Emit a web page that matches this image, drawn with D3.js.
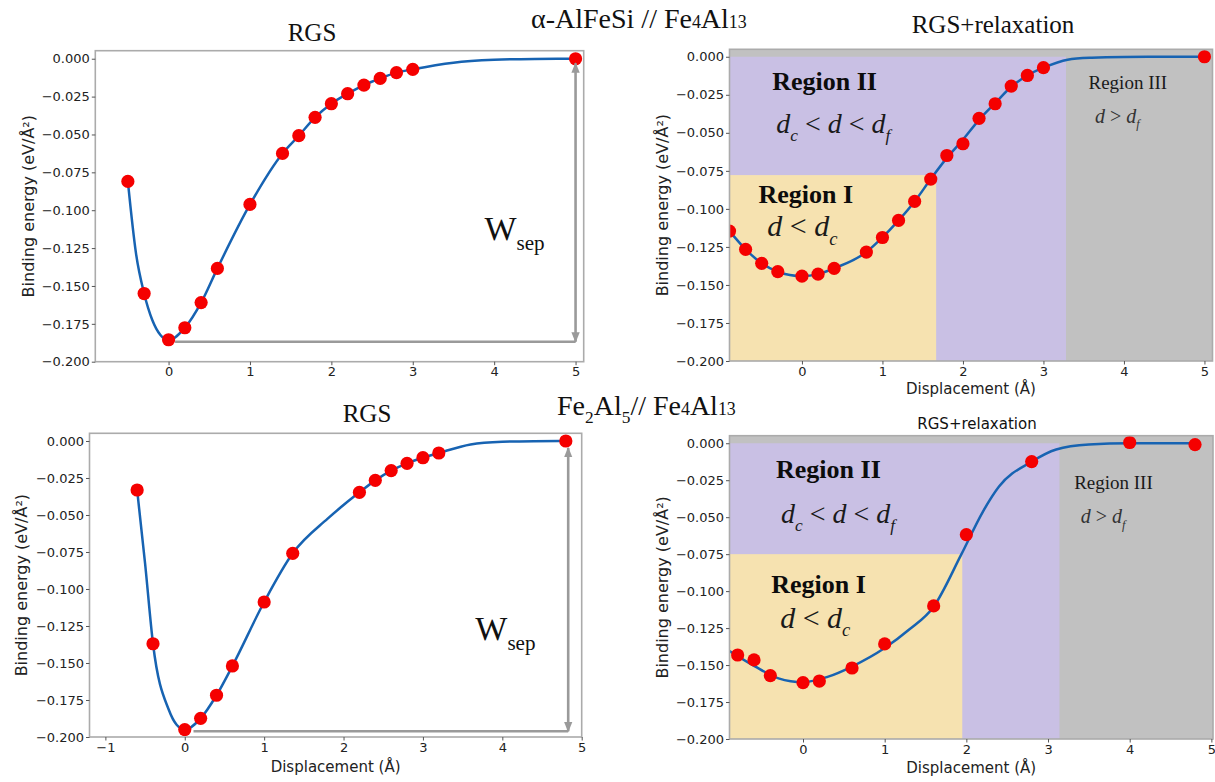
<!DOCTYPE html>
<html lang="en">
<head>
<meta charset="utf-8" />
<title>Binding energy vs displacement</title>
<script src="https://cdn.jsdelivr.net/npm/d3@7"></script>
<style>
  body { margin: 0; background: #fff; }
  svg { display: block; }
</style>
</head>
<body>
<div id="chart"></div>
<script>
// ---- data ----
// top left: alpha-AlFeSi // Fe4Al13, RGS
var aX = [-0.5, -0.3, 0, 0.2, 0.4, 0.6, 1.0, 1.4, 1.6, 1.8, 2.0, 2.2, 2.4, 2.6, 2.8, 3.0, 5.0];
var aY = [-0.081, -0.155, -0.1855, -0.1776, -0.161, -0.1384, -0.0962, -0.0625, -0.0508, -0.0387, -0.0297, -0.0231, -0.0174, -0.0130, -0.0092, -0.0070, 0];
var aFitX = [-0.5, -0.4, -0.3, -0.2, -0.1, 0, 0.2, 0.4, 0.6, 1.0, 1.4, 1.6, 1.8, 2.0, 2.2, 2.4, 2.6, 2.8, 3.0, 3.5, 4.0, 4.5, 5.0];
var aFitY = [-0.081, -0.1285, -0.155, -0.1725, -0.1824, -0.1858, -0.1776, -0.161, -0.1384, -0.0962, -0.0625, -0.0508, -0.0387, -0.0297, -0.0231, -0.0174, -0.0130, -0.0092, -0.0070, -0.0026, -0.0007, -0.0001, 0];

// top right: RGS+relaxation
var bX = [-0.9, -0.7, -0.5, -0.3, 0, 0.2, 0.4, 0.8, 1.0, 1.2, 1.4, 1.6, 1.8, 2.0, 2.2, 2.4, 2.6, 2.8, 3.0, 5.0];
var bY = [-0.1146, -0.1266, -0.1358, -0.1413, -0.1442, -0.1429, -0.1391, -0.1284, -0.1188, -0.1076, -0.0951, -0.0804, -0.0649, -0.0572, -0.0405, -0.0309, -0.0193, -0.0123, -0.0072, 0];
var bFitX = [-0.9, -0.7, -0.5, -0.3, 0, 0.2, 0.4, 0.8, 1.0, 1.2, 1.4, 1.6, 1.8, 2.0, 2.2, 2.4, 2.6, 2.8, 3.0, 3.3, 3.6, 4.0, 4.5, 5.0];
var bFitY = [-0.1146, -0.1266, -0.1358, -0.1413, -0.1442, -0.1429, -0.1391, -0.1284, -0.1188, -0.1076, -0.0951, -0.0804, -0.0665, -0.0545, -0.0415, -0.0305, -0.0197, -0.0123, -0.0072, -0.0019, -0.0006, -0.0001, 0, 0];
var bRegionX = [1.667, 3.28];   // d_c, d_f
var bRegionY = -0.0778;

// bottom left: Fe2Al5 // Fe4Al13, RGS
var cX = [-0.6, -0.4, 0, 0.2, 0.4, 0.6, 1.0, 1.36, 2.2, 2.4, 2.6, 2.8, 3.0, 3.2, 4.8];
var cY = [-0.0331, -0.137, -0.195, -0.1874, -0.1718, -0.152, -0.1088, -0.0759, -0.0347, -0.0266, -0.0200, -0.0151, -0.0113, -0.0081, 0];
var cFitX = [-0.6, -0.5, -0.4, -0.2, -0.1, 0, 0.2, 0.4, 0.6, 1.0, 1.36, 1.8, 2.2, 2.4, 2.6, 2.8, 3.0, 3.2, 3.6, 4.0, 4.4, 4.8];
var cFitY = [-0.0331, -0.0827, -0.137, -0.1818, -0.1919, -0.195, -0.1874, -0.1718, -0.152, -0.1088, -0.0759, -0.0525, -0.0347, -0.0266, -0.0200, -0.0151, -0.0113, -0.0081, -0.0023, -0.0005, -0.0001, 0];

// bottom right: RGS+relaxation
var dX = [-0.8, -0.6, -0.4, 0, 0.2, 0.6, 1.0, 1.6, 2.0, 2.8, 4.0, 4.8];
var dY = [-0.1432, -0.1465, -0.1571, -0.1619, -0.1608, -0.152, -0.1357, -0.110, -0.0618, -0.0124, 0.0005, -0.0009];
var dFitX = [-0.9, -0.6, -0.3, 0, 0.3, 0.6, 1.0, 1.3, 1.6, 1.94, 2.2, 2.4, 2.8, 3.1, 3.5, 4.0, 4.8];
var dFitY = [-0.1405, -0.1505, -0.159, -0.1616, -0.158, -0.151, -0.1385, -0.126, -0.1105, -0.075, -0.0465, -0.0293, -0.0124, -0.0042, -0.0008, 0, 0];
var dRegionX = [1.95, 3.14];
var dRegionY = -0.075;

var yTicks = [0, -0.025, -0.05, -0.075, -0.1, -0.125, -0.15, -0.175, -0.2];
var xTicks = [0, 1, 2, 3, 4, 5];
var xTicksC = [-1, 0, 1, 2, 3, 4, 5];

var SANS = "DejaVu Sans";
var SERIF = "Liberation Serif";
var lineColor = "#1763b2";
var dotColor = "#f50000";

var svg = d3.select("#chart").append("svg")
  .attr("width", 1215)
  .attr("height", 782)
  .style("background", "#fff");

var defs = svg.append("defs");
defs.append("marker")
  .attr("id", "head")
  .attr("viewBox", "0 0 10 10")
  .attr("refX", 9).attr("refY", 5)
  .attr("markerWidth", 4).attr("markerHeight", 4)
  .attr("orient", "auto-start-reverse")
  .append("path")
  .attr("d", "M0,1 L10,5 L0,9 z")
  .attr("fill", "#9a9a9a");

function zip(xs, ys) {
  return xs.map(function(v, i) { return [v, ys[i]]; });
}

function drawPanel(p) {
  var x = d3.scaleLinear().domain(p.xDomain).range([p.left, p.right]);
  var y = d3.scaleLinear().domain(p.yDomain).range([p.bottom, p.top]);
  var g = svg.append("g");

  defs.append("clipPath").attr("id", "clip-" + p.id)
    .append("rect")
    .attr("x", p.left).attr("y", p.top)
    .attr("width", p.right - p.left).attr("height", p.bottom - p.top);

  var plot = g.append("g").attr("clip-path", "url(#clip-" + p.id + ")");

  // shaded regions I / II / III
  if (p.regionX) {
    var x0 = p.xDomain[0], x1 = p.xDomain[1];
    plot.append("rect")
      .attr("x", x(x0)).attr("y", y(p.yDomain[1]))
      .attr("width", x(x1) - x(x0)).attr("height", y(-0.2) - y(p.yDomain[1]))
      .attr("fill", "#c1c1c1");
    plot.append("rect")
      .attr("x", x(x0)).attr("y", y(0))
      .attr("width", x(p.regionX[1]) - x(x0)).attr("height", y(-0.2) - y(0))
      .attr("fill", "#c9c0e4");
    plot.append("rect")
      .attr("x", x(x0)).attr("y", y(p.regionY))
      .attr("width", x(p.regionX[0]) - x(x0)).attr("height", y(-0.2) - y(p.regionY))
      .attr("fill", "#f6e2b0");
  }

  var line = d3.line()
    .x(function(d) { return x(d[0]); })
    .y(function(d) { return y(d[1]); })
    .curve(d3.curveMonotoneX);

  plot.append("path")
    .datum(zip(p.fitX, p.fitY))
    .attr("d", line)
    .attr("fill", "none")
    .attr("stroke", lineColor)
    .attr("stroke-width", 2.5);

  plot.selectAll("circle")
    .data(zip(p.ptX, p.ptY))
    .enter().append("circle")
    .attr("cx", function(d) { return x(d[0]); })
    .attr("cy", function(d) { return y(d[1]); })
    .attr("r", 6.6)
    .attr("fill", dotColor);

  // frame
  g.append("rect")
    .attr("x", p.left).attr("y", p.top)
    .attr("width", p.right - p.left).attr("height", p.bottom - p.top)
    .attr("fill", "none")
    .attr("stroke", "#ababab")
    .attr("stroke-width", 1.6);

  var fmt = d3.format(".3f");
  var yAxis = g.append("g")
    .attr("transform", "translate(" + p.left + ",0)")
    .call(d3.axisLeft(y).tickValues(yTicks).tickFormat(fmt).tickSize(3.5).tickPadding(2));
  var xAxis = g.append("g")
    .attr("transform", "translate(0," + p.bottom + ")")
    .call(d3.axisBottom(x).tickValues(p.xTicks).tickFormat(d3.format("d")).tickSize(3.5).tickPadding(2));

  [yAxis, xAxis].forEach(function(ax) {
    ax.select(".domain").remove();
    ax.attr("font-family", SANS).attr("font-size", 13);
    ax.selectAll("line").attr("stroke", "#555");
    ax.selectAll("text").attr("fill", "#222");
  });

  g.append("text")
    .attr("transform", "translate(" + p.yLabelX + "," + ((p.top + p.bottom) / 2) + ") rotate(-90)")
    .attr("text-anchor", "middle")
    .attr("dominant-baseline", "central")
    .attr("font-family", SANS)
    .attr("font-size", 16)
    .attr("fill", "#222")
    .text("Binding energy (eV/Å²)");

  if (p.xLabelY) {
    g.append("text")
      .attr("x", (p.left + p.right) / 2)
      .attr("y", p.xLabelY)
      .attr("text-anchor", "middle")
      .attr("font-family", SANS)
      .attr("font-size", 15)
      .attr("fill", "#222")
      .text("Displacement (Å)");
  }

  g.append("text")
    .attr("x", p.titleX).attr("y", p.titleY)
    .attr("text-anchor", "middle")
    .attr("font-family", p.titleSans ? SANS : SERIF)
    .attr("font-size", p.titleSans ? 15 : 25)
    .attr("fill", "#111")
    .text(p.title);

  return { x: x, y: y, g: g };
}

// rich text: parts = [text, style] with style "i" italic, "sub" subscript, "small" small on baseline
function richText(g, px, py, parts, size, opts) {
  opts = opts || {};
  var t = g.append("text")
    .attr("x", px).attr("y", py)
    .attr("font-family", SERIF)
    .attr("font-size", size)
    .attr("font-weight", opts.bold ? "bold" : "normal")
    .attr("fill", opts.fill || "#111");
  var shift = 0;
  parts.forEach(function(pt) {
    var s = pt[1] || "";
    var ts = t.append("tspan").text(pt[0]);
    var want = 0;
    if (s.indexOf("sub") >= 0) { want = size * 0.28; ts.attr("font-size", size * 0.62); }
    if (s.indexOf("small") >= 0) { ts.attr("font-size", size * 0.64); }
    if (s.indexOf("i") === 0) { ts.attr("font-style", "italic"); }
    if (want !== shift) { ts.attr("dy", want - shift); shift = want; }
  });
  return t;
}

var pA = drawPanel({
  id: "a", left: 95.3, right: 583.7, top: 50.7, bottom: 361.7,
  xDomain: [-0.9, 5.1], yDomain: [-0.2, 0.0053], xTicks: xTicks,
  ptX: aX, ptY: aY, fitX: aFitX, fitY: aFitY,
  yLabelX: 28, title: "RGS", titleX: 312, titleY: 41
});
var pB = drawPanel({
  id: "b", left: 729.5, right: 1212.5, top: 49.3, bottom: 361,
  xDomain: [-0.9, 5.1], yDomain: [-0.2, 0.0049], xTicks: xTicks,
  ptX: bX, ptY: bY, fitX: bFitX, fitY: bFitY,
  regionX: bRegionX, regionY: bRegionY,
  yLabelX: 662.6, xLabelY: 394, title: "RGS+relaxation", titleX: 993, titleY: 33
});
var pC = drawPanel({
  id: "c", left: 89.5, right: 581.7, top: 433.3, bottom: 737,
  xDomain: [-1.2, 5.0], yDomain: [-0.2, 0.0052], xTicks: xTicksC,
  ptX: cX, ptY: cY, fitX: cFitX, fitY: cFitY,
  yLabelX: 21.4, xLabelY: 771.7, title: "RGS", titleX: 367, titleY: 422
});
var pD = drawPanel({
  id: "d", left: 729.5, right: 1213, top: 435.7, bottom: 739,
  xDomain: [-0.9, 5.02], yDomain: [-0.2, 0.0051], xTicks: xTicks,
  ptX: dX, ptY: dY, fitX: dFitX, fitY: dFitY,
  regionX: dRegionX, regionY: dRegionY,
  yLabelX: 662.6, xLabelY: 773, title: "RGS+relaxation", titleX: 977, titleY: 429, titleSans: true
});

// W_sep arrows on the RGS panels
function wsep(p, x0, xEnd, yLow, yHigh, labX, labY) {
  p.g.append("line")
    .attr("x1", p.x(x0)).attr("x2", p.x(xEnd))
    .attr("y1", p.y(yLow)).attr("y2", p.y(yLow))
    .attr("stroke", "#9a9a9a").attr("stroke-width", 2.6);
  p.g.append("line")
    .attr("x1", p.x(xEnd)).attr("x2", p.x(xEnd))
    .attr("y1", p.y(yLow)).attr("y2", p.y(yHigh))
    .attr("stroke", "#9a9a9a").attr("stroke-width", 2.6)
    .attr("marker-start", "url(#head)")
    .attr("marker-end", "url(#head)");
  richText(p.g, p.x(labX), p.y(labY), [["W"], ["sep", "sub"]], 34, { fill: "#111" });
}
wsep(pA, 0.08, 5.0, -0.1868, -0.003, 3.88, -0.1197);
wsep(pC, 0.11, 4.83, -0.1961, -0.0047, 3.66, -0.1345);

// region annotations
function regions(p, t) {
  richText(p.g, p.x(t.r2[0]), p.y(t.r2[1]), [["Region II"]], 26, { bold: true, fill: "#0c0c0c" });
  richText(p.g, p.x(t.m2[0]), p.y(t.m2[1]),
    [["d", "i"], ["c", "i sub"], [" < "], ["d", "i"], [" < "], ["d", "i"], ["f", "i sub"]], 28, { fill: "#1a1a1a" });
  richText(p.g, p.x(t.r1[0]), p.y(t.r1[1]), [["Region I"]], 26, { bold: true, fill: "#0c0c0c" });
  richText(p.g, p.x(t.m1[0]), p.y(t.m1[1]),
    [["d", "i"], [" < "], ["d", "i"], ["c", "i sub"]], 30, { fill: "#1a1a1a" });
  richText(p.g, p.x(t.r3[0]), p.y(t.r3[1]), [["Region III"]], 19, { fill: "#1a1a1a" });
  richText(p.g, p.x(t.m3[0]), p.y(t.m3[1]),
    [["d", "i"], [" > "], ["d", "i"], ["f", "i sub"]], 20, { fill: "#333" });
}
regions(pB, { r2: [-0.37, -0.0219], m2: [-0.32, -0.0504], r1: [-0.54, -0.0964], m1: [-0.43, -0.118], r3: [3.56, -0.0215], m3: [3.64, -0.0434] });
regions(pD, { r2: [-0.33, -0.0237], m2: [-0.27, -0.054], r1: [-0.39, -0.1014], m1: [-0.28, -0.125], r3: [3.32, -0.0309], m3: [3.40, -0.054] });

// system titles
richText(svg, 531, 28, [["α-AlFeSi // Fe"], ["4", "small"], ["Al"], ["13", "small"]], 28);
richText(svg, 557, 415, [["Fe"], ["2", "sub"], ["Al"], ["5", "sub"], ["// Fe"], ["4", "small"], ["Al"], ["13", "small"]], 28);
</script>
</body>
</html>
